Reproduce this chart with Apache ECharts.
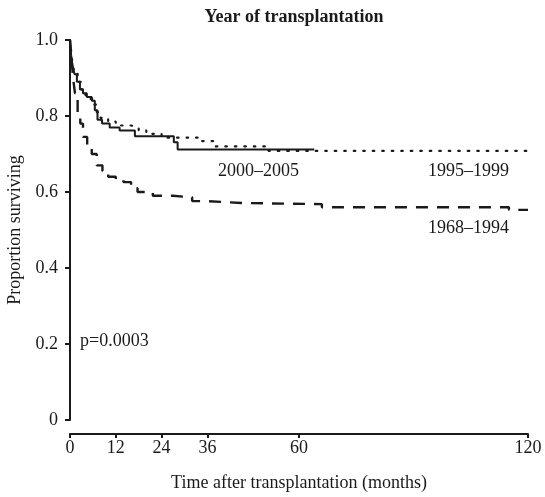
<!DOCTYPE html>
<html>
<head>
<meta charset="utf-8">
<script src="https://cdn.jsdelivr.net/npm/echarts@6/dist/echarts.min.js"></script>
<style>
  html, body { margin: 0; padding: 0; background: #fff; }
  #chart { width: 545px; height: 497px; }
</style>
</head>
<body>
<div id="chart"></div>
<script>
// Kaplan-Meier curves (months, proportion surviving)
const xTicks = [0, 12, 24, 36, 60, 120]

const time2000 = [0, 0.3, 0.7, 1.2, 1.8, 2.6, 3.4, 4.4, 5.7, 6.5, 7.2, 8.4, 10.4, 13, 17, 27.2, 28.2, 64]
const surv2000 = [1.0, 0.96, 0.93, 0.91, 0.89, 0.87, 0.86, 0.85, 0.84, 0.815, 0.79, 0.78, 0.77, 0.762, 0.747, 0.731, 0.712, 0.712]

const time1995 = [0, 0.5, 1, 2, 3, 4, 5, 6, 7, 8, 10, 12, 16, 18, 20, 24, 34, 38, 52, 120]
const surv1995 = [1.0, 0.95, 0.92, 0.89, 0.87, 0.855, 0.845, 0.83, 0.81, 0.795, 0.785, 0.775, 0.77, 0.762, 0.753, 0.743, 0.734, 0.72, 0.708, 0.708]

const time1968 = [0, 0.4, 0.8, 1.3, 2, 2.7, 3.4, 4.5, 5.7, 7, 8.5, 10, 12, 14, 16, 17.7, 21.7, 27, 32, 36, 45, 66, 115, 120]
const surv1968 = [1.0, 0.95, 0.90, 0.86, 0.81, 0.78, 0.745, 0.72, 0.70, 0.67, 0.655, 0.64, 0.633, 0.626, 0.61, 0.60, 0.59, 0.586, 0.576, 0.571, 0.568, 0.56, 0.553, 0.553]

const seriesNames = ['2000–2005', '1995–1999', '1968–1994']

const zip = (xs, ys) => xs.map((x, i) => [x, ys[i]])
const font = 'Liberation Serif'
const ink = '#1a1a1a'
const txt = '18px "Liberation Serif"'

const chart = echarts.init(document.getElementById('chart'))

chart.setOption({
  animation: false,
  textStyle: { fontFamily: font, color: ink },
  title: {
    text: 'Year of transplantation',
    left: 289,
    top: 3,
    textAlign: 'center',
    textStyle: { fontFamily: font, fontWeight: 'bold', fontSize: 18, color: ink }
  },
  grid: { left: 70, right: 17, top: 40, bottom: 77, outerBoundsMode: 'none' },
  xAxis: {
    type: 'value',
    min: 0,
    max: 120,
    offset: 14,
    name: 'Time after transplantation (months)',
    nameLocation: 'middle',
    nameGap: 40,
    nameTextStyle: { fontFamily: font, fontSize: 18, color: ink },
    axisLine: { show: true, onZero: false, lineStyle: { color: ink, width: 2 } },
    axisTick: { show: true, length: 4, customValues: xTicks, lineStyle: { color: ink, width: 2 } },
    axisLabel: { customValues: xTicks, fontFamily: font, fontSize: 18, color: ink, margin: 5 },
    splitLine: { show: false }
  },
  yAxis: {
    type: 'value',
    min: 0,
    max: 1,
    interval: 0.2,
    name: 'Proportion surviving',
    nameLocation: 'middle',
    nameGap: 43,
    nameTextStyle: { fontFamily: font, fontSize: 18, color: ink },
    axisLine: { show: true, onZero: false, lineStyle: { color: ink, width: 2 } },
    axisTick: { show: true, length: 5, lineStyle: { color: ink, width: 2 } },
    axisLabel: {
      fontFamily: font, fontSize: 18, color: ink, margin: 12,
      formatter: v => (v === 0 ? '0' : v.toFixed(1))
    },
    splitLine: { show: false }
  },
  series: [
    {
      name: seriesNames[0],
      type: 'line',
      step: 'end',
      showSymbol: false,
      data: zip(time2000, surv2000),
      lineStyle: { color: ink, width: 2 },
      z: 3
    },
    {
      name: seriesNames[1],
      type: 'line',
      step: 'end',
      showSymbol: false,
      data: zip(time1995, surv1995),
      lineStyle: { color: ink, width: 2.2, type: [1.5, 8], cap: 'round' },
      z: 2
    },
    {
      name: seriesNames[2],
      type: 'line',
      step: 'end',
      showSymbol: false,
      data: zip(time1968, surv1968),
      lineStyle: { color: ink, width: 2.4, type: [12, 9] },
      z: 2
    }
  ],
  graphic: [
    { type: 'text', left: 218, top: 162, style: { text: seriesNames[0], font: txt, fill: ink } },
    { type: 'text', left: 428, top: 162, style: { text: seriesNames[1], font: txt, fill: ink } },
    { type: 'text', left: 428, top: 219, style: { text: seriesNames[2], font: txt, fill: ink } },
    { type: 'text', left: 80, top: 332, style: { text: 'p=0.0003', font: txt, fill: ink } }
  ]
})
</script>
</body>
</html>
